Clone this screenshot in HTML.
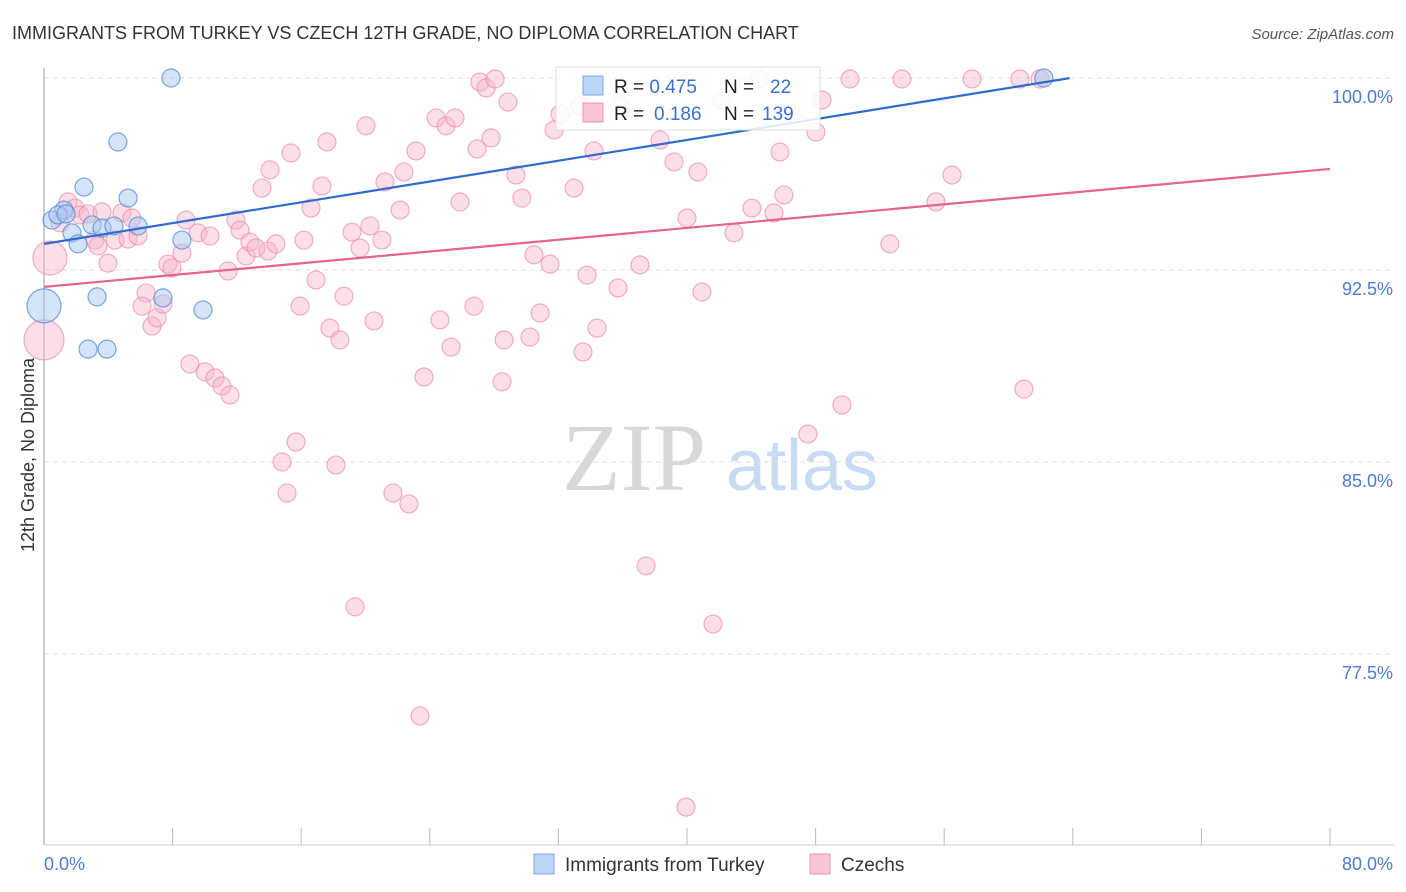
<!DOCTYPE html>
<html><head><meta charset="utf-8"><style>
body{margin:0;background:#fff;font-family:"Liberation Sans",sans-serif;}
svg{display:block}
</style></head><body>
<svg width="1406" height="892" xmlns="http://www.w3.org/2000/svg">
<text x="12" y="39" font-size="18" fill="#333">IMMIGRANTS FROM TURKEY VS CZECH 12TH GRADE, NO DIPLOMA CORRELATION CHART</text>
<text x="1394" y="39" font-size="15" fill="#555" font-style="italic" text-anchor="end">Source: ZipAtlas.com</text>
<g>
<text x="634" y="490" font-size="96" fill="#d8d8d8" text-anchor="middle" font-family="Liberation Serif,serif">ZIP</text>
<text x="802" y="490" font-size="72" fill="#c9daf3" text-anchor="middle">atlas</text>
</g>
<g id="grid"></g><g id="axes"></g><g id="pts"></g><g id="lines"></g>
<g>
<rect x="556" y="67" width="264" height="63" fill="#fff" fill-opacity="0.85" stroke="#ddd"/>
<rect x="583" y="76" width="20" height="19" fill="#bcd4f5" stroke="#7aa5e8"/>
<rect x="583" y="103" width="20" height="19" fill="#f9c4d4" stroke="#ec94b1"/>
<text x="614" y="93" font-size="19" fill="#222">R = <tspan fill="#3a6fd0">0.475</tspan><tspan x="724">N = </tspan><tspan x="770" fill="#3a6fd0">22</tspan></text>
<text x="614" y="120" font-size="19" fill="#222">R = <tspan x="654" fill="#3a6fd0">0.186</tspan><tspan x="724">N = </tspan><tspan x="762" fill="#3a6fd0">139</tspan></text>
</g>
<g>
<rect x="534" y="854" width="20" height="20" fill="#bcd4f5" stroke="#7aa5e8"/>
<text x="565" y="871" font-size="19" fill="#333">Immigrants from Turkey</text>
<rect x="810" y="854" width="20" height="20" fill="#f9c4d4" stroke="#ec94b1"/>
<text x="841" y="871" font-size="19" fill="#333">Czechs</text>
</g>
<text transform="translate(34,455) rotate(-90)" font-size="18" fill="#333" text-anchor="middle">12th Grade, No Diploma</text>
</svg>
<script>
const blueX=[7.90,4.60,2.49,5.23,1.24,0.50,0.87,1.74,2.99,3.61,4.35,5.85,2.12,8.58,3.30,7.40,9.89,2.74,3.92,0,62.2,1.37];
const blueY=[100,97.5,95.74,95.31,94.84,94.45,94.65,93.95,94.26,94.14,94.22,94.22,93.52,93.67,91.45,91.41,90.94,89.41,89.41,91.1,100,94.69];
const blueR=[9,9,9,9,9,9,9,9,9,9,9,9,9,9,9,9,9,9,9,17,9,9];
const pinkX=[0.37,0,1.49,1.00,1.93,2.24,2.74,3.17,3.61,3.36,3.98,4.42,4.85,5.23,5.47,5.85,6.35,6.10,6.72,7.03,7.40,7.71,7.96,8.58,8.83,9.08,9.58,10.02,10.33,10.64,11.07,11.57,11.45,11.94,12.19,12.57,12.81,13.19,13.56,13.93,14.06,14.43,14.81,15.12,15.36,15.68,15.93,16.17,16.61,16.92,17.29,17.60,17.79,18.16,18.41,18.66,19.16,19.35,19.66,20.03,20.28,20.53,21.02,21.21,21.71,22.15,22.39,22.70,23.14,23.39,23.64,24.39,24.63,25.01,25.32,25.57,25.88,26.75,26.94,27.12,27.50,27.81,28.06,28.49,28.62,28.86,29.36,29.73,30.23,30.48,30.86,31.48,31.73,32.10,32.97,33.34,33.78,34.21,34.40,33.53,35.71,35.83,37.45,37.07,38.32,39.19,39.94,40.00,40.68,40.93,41.62,42.18,42.92,44.04,44.48,45.41,45.78,46.03,47.52,48.02,48.40,49.64,50.14,52.62,53.37,55.49,56.48,57.73,60.71,60.96,61.96];
const pinkY=[92.97,89.77,95.16,94.34,94.92,94.65,94.69,93.67,94.77,93.44,92.77,93.67,94.73,93.71,94.53,93.83,91.60,91.09,90.31,90.63,91.17,92.73,92.58,93.16,94.45,88.83,93.95,88.52,93.83,88.28,87.97,87.62,92.46,94.45,94.06,93.05,93.59,93.36,95.70,93.24,96.41,93.52,85.0,83.79,97.07,85.78,91.09,93.67,94.92,92.11,95.78,97.50,90.23,84.88,89.77,91.48,93.98,79.34,93.36,98.13,94.22,90.51,93.67,95.94,83.79,94.84,96.33,83.36,97.15,75.08,88.32,98.44,90.55,98.13,89.49,98.44,95.16,91.09,97.23,99.84,99.61,97.66,99.96,88.13,89.77,99.06,96.21,95.31,89.88,93.09,90.82,92.73,97.97,98.59,95.70,98.91,92.30,97.15,90.23,89.30,91.80,98.91,80.94,92.70,97.58,96.72,71.52,94.53,96.33,91.64,78.67,99.10,93.95,94.92,99.96,94.73,97.11,95.43,86.09,97.89,99.14,87.23,99.96,93.52,99.96,95.16,96.21,99.96,99.96,87.85,99.96];
const bigPink={0:17,1:20};
const trendBlue=[93.52,0.1015]; // intercept, slope
const trendPink=[91.84,0.0576];
const xTicks=[0,8,16,24,32,40,48,56,64,72,80];
const yTicks=[100,92.5,85,77.5];
const yTickLabels=["100.0%","92.5%","85.0%","77.5%"];
const NS="http://www.w3.org/2000/svg";
const sx=v=>44+v/80*1286;
const sy=v=>78+(100-v)/7.5*192;
function mk(tag,attrs,parent){const e=document.createElementNS(NS,tag);for(const k in attrs)e.setAttribute(k,attrs[k]);document.getElementById(parent).appendChild(e);return e;}
yTicks.forEach((t,i)=>{
  const g=mk('line',{x1:44,x2:1394,y1:sy(t),y2:sy(t),stroke:'#ddd','stroke-dasharray':'5,4'},'grid');
  
  
  const l=mk('text',{x:1393,y:sy(t)+25,'font-size':18,fill:'#4a7bd5','text-anchor':'end'},'axes');
  l.textContent=yTickLabels[i];
  
  
});
const ax=mk('line',{x1:44,x2:44,y1:68,y2:845,stroke:'#bbb','stroke-width':1.5},'axes');


const bx=mk('line',{x1:44,x2:1394,y1:845,y2:845,stroke:'#ccc'},'axes');


xTicks.forEach(t=>{
  const k=mk('line',{x1:sx(t),x2:sx(t),y1:828,y2:845,stroke:'#bbb'},'axes');
  
  
});
const xl0=mk('text',{x:44,y:870,'font-size':18,fill:'#4a7bd5'},'axes');xl0.textContent='0.0%';


const xl1=mk('text',{x:1393,y:870,'font-size':18,fill:'#4a7bd5','text-anchor':'end'},'axes');xl1.textContent='80.0%';


pinkX.forEach((x,i)=>{
  const c=mk('circle',{cx:sx(x),cy:sy(pinkY[i]),r:bigPink[i]||9,fill:'#f7b6c9','fill-opacity':0.45,stroke:'#ec8fae','stroke-opacity':0.7,'stroke-width':1.2},'pts');
  
  
});
blueX.forEach((x,i)=>{
  const c=mk('circle',{cx:sx(x),cy:sy(blueY[i]),r:blueR[i],fill:'#a9c8f0','fill-opacity':0.5,stroke:'#5b90dc','stroke-opacity':0.8,'stroke-width':1.2},'pts');
  
  
});
const bl=mk('line',{x1:sx(0),y1:sy(trendBlue[0]),x2:sx(63.8),y2:sy(trendBlue[0]+trendBlue[1]*63.8),stroke:'#2f6ad0','stroke-width':2.2},'lines');


const pl=mk('line',{x1:sx(0),y1:sy(trendPink[0]),x2:sx(80),y2:sy(trendPink[0]+trendPink[1]*80),stroke:'#e5638f','stroke-width':2.2},'lines');


</script>
</body></html>
